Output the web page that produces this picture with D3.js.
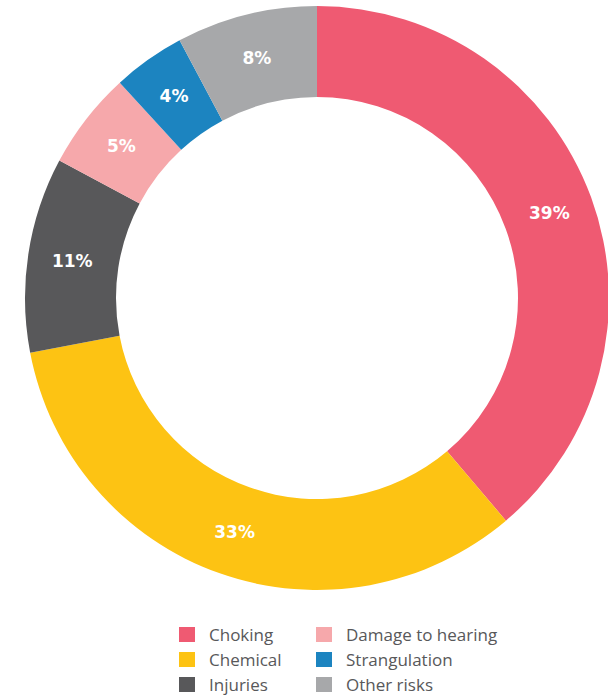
<!DOCTYPE html>
<html lang="en">
<head>
  <meta charset="UTF-8">
  <title>Risks</title>
  <script src="https://d3js.org/d3.v7.min.js"></script>
  <style>
    body { margin: 0; background: #fff; }
    .label { font-family: "DejaVu Sans", sans-serif; font-weight: 700; font-size: 17px; fill: #fff; }
    .legend text { font-family: "Open Sans", sans-serif; font-size: 17px; fill: #58585a; }
  </style>
</head>
<body>
  <div id="chart"></div>
  <script>
    const categories = ["Choking", "Chemical", "Injuries", "Damage to hearing", "Strangulation", "Other risks"];
    // slice sizes as measured off the ring, and the rounded labels printed on them
    const values = [38.8, 33.2, 10.8, 5.4, 4.0, 7.8];
    const labels = ["39%", "33%", "11%", "5%", "4%", "8%"];
    const colors = ["#ef5a72", "#fdc313", "#58585a", "#f6a8ab", "#1c84c0", "#a7a8aa"];

    const width = 608;
    const height = 696;
    const cx = 317, cy = 298;
    const outerR = 292, innerR = 201;

    const data = categories.map((c, i) => ({ name: c, value: values[i], label: labels[i] }));

    const color = d3.scaleOrdinal().domain(categories).range(colors);

    const svg = d3.select("#chart")
      .append("svg")
      .attr("width", width)
      .attr("height", height);

    const pie = d3.pie().value(d => d.value).sort(null);
    const arc = d3.arc().innerRadius(innerR).outerRadius(outerR);
    const labelArc = d3.arc().innerRadius(innerR + 2).outerRadius(outerR);

    const g = svg.append("g").attr("transform", `translate(${cx},${cy})`);

    const arcs = pie(data);

    g.selectAll("path")
      .data(arcs)
      .enter().append("path")
      .attr("d", arc)
      .attr("fill", d => color(d.data.name));

    g.selectAll("text")
      .data(arcs)
      .enter().append("text")
      .attr("class", "label")
      .attr("transform", d => `translate(${labelArc.centroid(d)})`)
      .attr("text-anchor", "middle")
      .attr("dy", "0.36em")
      .text(d => d.data.label);

    const legend = svg.append("g")
      .attr("class", "legend")
      .attr("transform", "translate(179, 627)");

    const item = legend.selectAll("g")
      .data(categories)
      .enter().append("g")
      .attr("transform", (d, i) => `translate(${Math.floor(i / 3) * 137}, ${(i % 3) * 25})`);

    item.append("rect")
      .attr("width", 16)
      .attr("height", 15)
      .attr("fill", d => color(d));

    item.append("text")
      .attr("x", 30)
      .attr("y", 14)
      .text(d => d);
  </script>
</body>
</html>
